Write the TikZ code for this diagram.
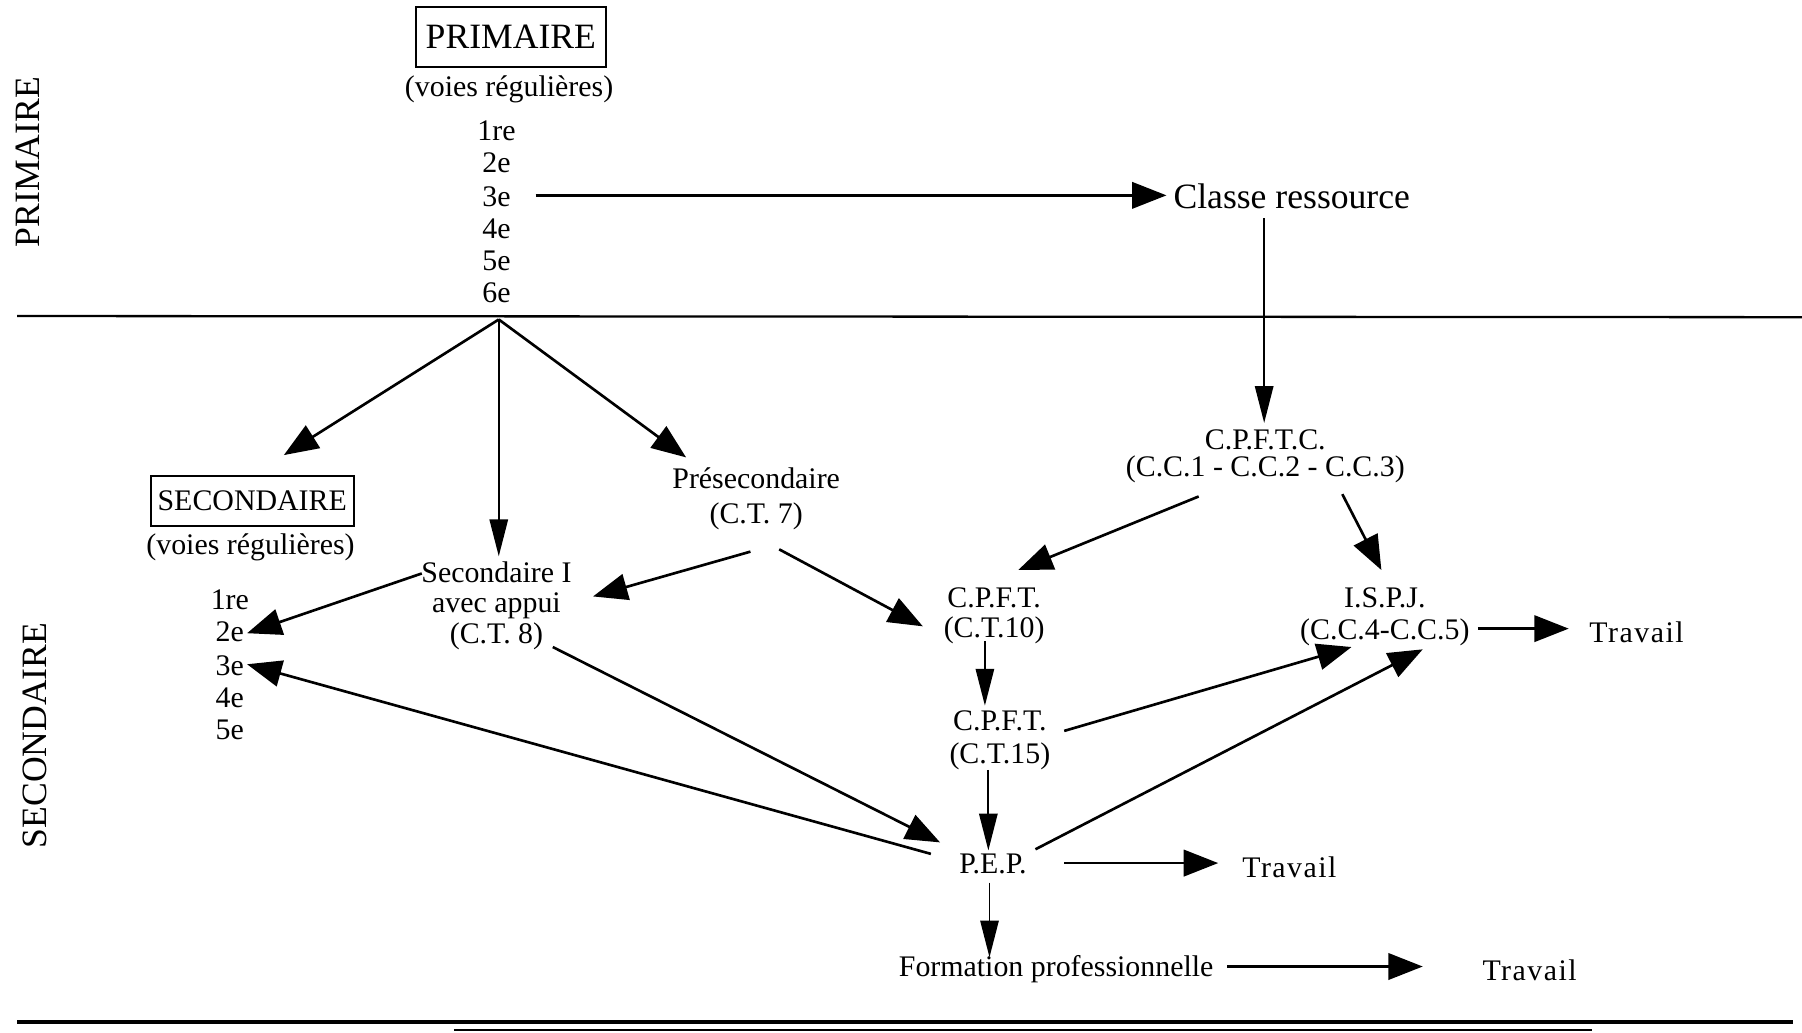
\documentclass[tikz,border=0pt]{standalone}
\usepackage{fontspec}
\setmainfont{Liberation Serif}
\usetikzlibrary{arrows.meta}
\begin{document}
\begin{tikzpicture}[x=0.5pt,y=-0.5pt,
  lbl/.style={font=\fontsize{13}{13}\selectfont, inner sep=1pt, align=center},
  big/.style={font=\fontsize{15.5}{16}\selectfont, inner sep=1pt},
  boxed/.style={draw, line width=0.9pt, inner sep=0pt},
  arr/.style={-{Triangle[length=15pt,width=11.5pt]}, line width=1.15pt},
  varr/.style={-{Triangle[length=16pt,width=8pt]}, line width=0.75pt},
  sep/.style={line width=1pt}]
\useasboundingbox (0,0) rectangle (1568,898);
\fill[white] (0,0) rectangle (1568,898);

% side labels
\node[big,rotate=90] (primlbl) at (24,141) {PRIMAIRE};
\node[big,rotate=90] (seclbl) at (30,640) {SECONDAIRE};

% separators
\coordinate (l1a) at (15,275); \coordinate (l1b) at (1568,276);
\draw[sep] (l1a) -- (l1b);
\coordinate (l2a) at (15,889); \coordinate (l2b) at (1560,889);
\draw[line width=1.6pt] (l2a) -- (l2b);
\coordinate (l3a) at (395,896); \coordinate (l3b) at (1385,896);
\draw[line width=0.8pt] (l3a) -- (l3b);

% primary
\node[boxed, font=\fontsize{15.5}{16}\selectfont, minimum width=82.5pt, minimum height=26pt] (prim) at (444.5,32) {PRIMAIRE};
\node[lbl] (voies1) at (443,78) {(voies régulières)};
\node[lbl] (g1) at (432,114) {1re};
\node[lbl] (g2) at (432,142) {2e};
\node[lbl] (g3) at (432,171) {3e};
\node[lbl] (g4) at (432,199) {4e};
\node[lbl] (g5) at (432,227) {5e};
\node[lbl] (g6) at (432,255) {6e};

\node[big] (classe) at (1124,171) {Classe ressource};

% secondary
\node[boxed, font=\fontsize{13}{13}\selectfont, minimum width=88.5pt, minimum height=22pt] (sec) at (219.5,436) {SECONDAIRE};
\node[lbl] (voies2) at (218,476) {(voies régulières)};
\node[lbl] (s1) at (200,522) {1re};
\node[lbl] (s2) at (200,550) {2e};
\node[lbl] (s3) at (200,579) {3e};
\node[lbl] (s4) at (200,607) {4e};
\node[lbl] (s5) at (200,635) {5e};

\node[lbl, font=\fontsize{13}{13.25}\selectfont] (sec1) at (432,527) {Secondaire I\\avec appui\\(C.T. 8)};
\node[lbl, font=\fontsize{13}{15.5}\selectfont] (pres) at (658,434) {Présecondaire\\(C.T. 7)};
\node[lbl, font=\fontsize{13}{12}\selectfont] (cpftc) at (1101,397) {C.P.F.T.C.\\(C.C.1 - C.C.2 - C.C.3)};
\node[lbl, font=\fontsize{13}{13}\selectfont] (ct10) at (865,536) {C.P.F.T.\\(C.T.10)};
\node[lbl, font=\fontsize{13}{14}\selectfont] (ispj) at (1205,537) {I.S.P.J.\\(C.C.4-C.C.5)};
\node[lbl, font=\fontsize{13}{14.5}\selectfont] (ct15) at (870,644) {C.P.F.T.\\(C.T.15)};
\node[lbl] (pep) at (864,752) {P.E.P.};
\node[lbl] (form) at (919,843) {Formation professionnelle};
\node[lbl, font=\fontsize{13}{13}\selectfont\addfontfeature{LetterSpace=5}] (trav1) at (1424,550) {Travail};
\node[lbl, font=\fontsize{13}{13}\selectfont\addfontfeature{LetterSpace=5}] (trav2) at (1122,755) {Travail};
\node[lbl, font=\fontsize{13}{13}\selectfont\addfontfeature{LetterSpace=5}] (trav3) at (1331,844) {Travail};

% connector end points
\coordinate (g3o) at (466,170);   \coordinate (classei) at (1015,170);
\coordinate (classeo) at (1100,190); \coordinate (cpftci) at (1100,368);
\coordinate (fan) at (434,278);
\coordinate (seci) at (247,396);  \coordinate (sec1i) at (434,484); \coordinate (presi) at (597,398);
\coordinate (sec1o) at (367,499); \coordinate (s2i) at (215,551);
\coordinate (preso1) at (653,480); \coordinate (sec1i2) at (516,519);
\coordinate (preso2) at (678,478); \coordinate (ct10i) at (803,545);
\coordinate (cpftco1) at (1043,432); \coordinate (ct10i2) at (886,496);
\coordinate (cpftco2) at (1168,430); \coordinate (ispji) at (1202,496);
\coordinate (ispjo) at (1286,547); \coordinate (trav1i) at (1365,547);
\coordinate (ct10o) at (857,558); \coordinate (ct15i) at (857,614);
\coordinate (ct15o) at (926,636); \coordinate (ispji2) at (1176,563);
\coordinate (pepo1) at (901,739); \coordinate (ispji3) at (1238,565);
\coordinate (ct15o2) at (860,670); \coordinate (pepi) at (860,740);
\coordinate (sec1o2) at (481,563); \coordinate (pepi2) at (818,733);
\coordinate (pepo2) at (810,743); \coordinate (s3i) at (215,578);
\coordinate (pepo3) at (926,751); \coordinate (trav2i) at (1060,751);
\coordinate (pepo4) at (861,768); \coordinate (formi) at (861,833);
\coordinate (formo) at (1068,841); \coordinate (trav3i) at (1238,841);

% connectors
\draw[arr] (g3o) -- (classei);
\draw[varr] (classeo) -- (cpftci);
\draw[arr] (fan) -- (seci);
\draw[varr] (fan) -- (sec1i);
\draw[arr] (fan) -- (presi);
\draw[arr] (sec1o) -- (s2i);
\draw[arr] (preso1) -- (sec1i2);
\draw[arr] (preso2) -- (ct10i);
\draw[arr] (cpftco1) -- (ct10i2);
\draw[arr] (cpftco2) -- (ispji);
\draw[arr] (ispjo) -- (trav1i);
\draw[varr] (ct10o) -- (ct15i);
\draw[arr] (ct15o) -- (ispji2);
\draw[arr] (pepo1) -- (ispji3);
\draw[varr] (ct15o2) -- (pepi);
\draw[arr] (sec1o2) -- (pepi2);
\draw[arr] (pepo2) -- (s3i);
\draw[arr] (pepo3) -- (trav2i);
\draw[varr] (pepo4) -- (formi);
\draw[arr] (formo) -- (trav3i);
\end{tikzpicture}
\end{document}
